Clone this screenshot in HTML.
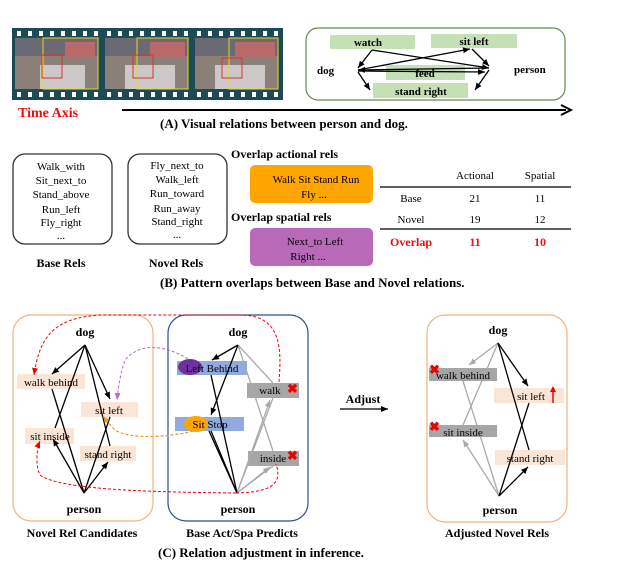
<!DOCTYPE html>
<html><head><meta charset="utf-8"><style>
body{margin:0;background:#fff;}
svg{display:block;font-family:"Liberation Serif",serif;}
</style></head><body>
<svg width="618" height="571" viewBox="0 0 618 571" xmlns="http://www.w3.org/2000/svg">
<defs>
<marker id="ab" markerWidth="8" markerHeight="8" refX="7" refY="4" orient="auto" markerUnits="userSpaceOnUse"><path d="M0,1 L7,4 L0,7 Z" fill="#000"/></marker>
<marker id="ag" markerWidth="8" markerHeight="8" refX="7" refY="4" orient="auto" markerUnits="userSpaceOnUse"><path d="M0,1 L7,4 L0,7 Z" fill="#aaa"/></marker>
<marker id="ar" markerWidth="8" markerHeight="8" refX="7" refY="4" orient="auto" markerUnits="userSpaceOnUse"><path d="M0,1 L7,4 L0,7 Z" fill="#e00"/></marker>
<marker id="ap" markerWidth="8" markerHeight="8" refX="7" refY="4" orient="auto" markerUnits="userSpaceOnUse"><path d="M0,1 L7,4 L0,7 Z" fill="#b070c0"/></marker>
<marker id="ao" markerWidth="8" markerHeight="8" refX="7" refY="4" orient="auto" markerUnits="userSpaceOnUse"><path d="M0,1 L7,4 L0,7 Z" fill="#e0a020"/></marker>
</defs>

<!-- (A) film strip -->
<rect x="12" y="28" width="271" height="72" fill="#1d4a55"/>
<g fill="#fff">
<rect x="17" y="31" width="4" height="5"/><rect x="28" y="31" width="4" height="5"/><rect x="39" y="31" width="4" height="5"/><rect x="50" y="31" width="4" height="5"/><rect x="61" y="31" width="4" height="5"/><rect x="72" y="31" width="4" height="5"/><rect x="83" y="31" width="4" height="5"/><rect x="94" y="31" width="4" height="5"/><rect x="107" y="31" width="4" height="5"/><rect x="118" y="31" width="4" height="5"/><rect x="129" y="31" width="4" height="5"/><rect x="140" y="31" width="4" height="5"/><rect x="151" y="31" width="4" height="5"/><rect x="162" y="31" width="4" height="5"/><rect x="173" y="31" width="4" height="5"/><rect x="184" y="31" width="4" height="5"/><rect x="197" y="31" width="4" height="5"/><rect x="208" y="31" width="4" height="5"/><rect x="219" y="31" width="4" height="5"/><rect x="230" y="31" width="4" height="5"/><rect x="241" y="31" width="4" height="5"/><rect x="252" y="31" width="4" height="5"/><rect x="263" y="31" width="4" height="5"/><rect x="274" y="31" width="4" height="5"/>
<rect x="17" y="92" width="4" height="5"/><rect x="28" y="92" width="4" height="5"/><rect x="39" y="92" width="4" height="5"/><rect x="50" y="92" width="4" height="5"/><rect x="61" y="92" width="4" height="5"/><rect x="72" y="92" width="4" height="5"/><rect x="83" y="92" width="4" height="5"/><rect x="94" y="92" width="4" height="5"/><rect x="107" y="92" width="4" height="5"/><rect x="118" y="92" width="4" height="5"/><rect x="129" y="92" width="4" height="5"/><rect x="140" y="92" width="4" height="5"/><rect x="151" y="92" width="4" height="5"/><rect x="162" y="92" width="4" height="5"/><rect x="173" y="92" width="4" height="5"/><rect x="184" y="92" width="4" height="5"/><rect x="197" y="92" width="4" height="5"/><rect x="208" y="92" width="4" height="5"/><rect x="219" y="92" width="4" height="5"/><rect x="230" y="92" width="4" height="5"/><rect x="241" y="92" width="4" height="5"/><rect x="252" y="92" width="4" height="5"/><rect x="263" y="92" width="4" height="5"/><rect x="274" y="92" width="4" height="5"/>
</g>
<g>
<rect x="15" y="38" width="83" height="51" fill="#8a8078"/><rect x="15" y="38" width="83" height="18" fill="#6a6a75"/><rect x="40" y="65" width="45" height="24" fill="#ccc8c8"/><rect x="65" y="42" width="30" height="15" fill="#b86a6a"/>
<rect x="105" y="38" width="83" height="51" fill="#8a8078"/><rect x="105" y="38" width="83" height="18" fill="#6a6a75"/><rect x="125" y="65" width="50" height="24" fill="#ccc8c8"/><rect x="150" y="42" width="35" height="15" fill="#b86a6a"/>
<rect x="195" y="38" width="83" height="51" fill="#8a8078"/><rect x="195" y="38" width="83" height="18" fill="#6a6a75"/><rect x="215" y="65" width="50" height="24" fill="#ccc8c8"/><rect x="235" y="42" width="40" height="15" fill="#b86a6a"/>
</g>
<g fill="none">
<rect x="43" y="38" width="55" height="51" stroke="#e8d820"/><rect x="42" y="55" width="20" height="23" stroke="#e03030"/>
<rect x="137" y="38" width="51" height="51" stroke="#e8d820"/><rect x="133" y="55" width="20" height="23" stroke="#e03030"/>
<rect x="229" y="38" width="49" height="51" stroke="#e8d820"/><rect x="222" y="58" width="20" height="20" stroke="#e03030"/>
</g>
<text x="18" y="117" font-size="14" font-weight="bold" fill="#e81010">Time Axis</text>
<line x1="122" y1="110" x2="566" y2="110" stroke="#000" stroke-width="2"/>
<path d="M561,105 L571,110 L561,115" fill="none" stroke="#000" stroke-width="2"/>
<text x="160" y="128" font-size="13" font-weight="bold">(A)  Visual relations between person and dog.</text>

<rect x="306" y="28" width="259" height="72" rx="12" fill="none" stroke="#6a8a50" stroke-width="1.2"/>
<rect x="330" y="35" width="85" height="14" fill="#c5e0b4"/>
<rect x="431" y="34" width="86" height="14" fill="#c5e0b4"/>
<rect x="386" y="65" width="79" height="15" fill="#c5e0b4"/>
<rect x="373" y="83" width="95" height="15" fill="#c5e0b4"/>
<g font-size="11" font-weight="bold" text-anchor="middle">
<text x="368" y="46">watch</text><text x="474" y="45">sit left</text><text x="425" y="77">feed</text><text x="421" y="95">stand right</text>
</g>
<text x="317" y="74" font-size="11" font-weight="bold">dog</text>
<text x="514" y="73" font-size="11" font-weight="bold">person</text>
<g stroke="#000" stroke-width="1.3" fill="none" marker-end="url(#ab)">
<line x1="372" y1="50" x2="489" y2="68"/>
<line x1="489" y1="68" x2="358" y2="70"/>
<line x1="358" y1="70" x2="470" y2="49"/>
<line x1="372" y1="50" x2="358" y2="68"/>
<line x1="358" y1="71" x2="485" y2="72"/>
<line x1="472" y1="49" x2="489" y2="66"/>
<line x1="358" y1="72" x2="370" y2="90"/>
<line x1="489" y1="70" x2="475" y2="90"/>
</g>

<!-- (B) -->
<rect x="13" y="154" width="99" height="90" rx="12" fill="none" stroke="#333" stroke-width="1.3"/>
<rect x="128" y="154" width="99" height="90" rx="12" fill="none" stroke="#333" stroke-width="1.3"/>
<g font-size="11" text-anchor="middle">
<text x="61" y="170">Walk_with</text><text x="61" y="184">Sit_next_to</text><text x="61" y="198">Stand_above</text><text x="61" y="213">Run_left</text><text x="61" y="226">Fly_right</text><text x="61" y="239">...</text>
<text x="177" y="169">Fly_next_to</text><text x="177" y="183">Walk_left</text><text x="177" y="197">Run_toward</text><text x="177" y="212">Run_away</text><text x="177" y="225">Stand_right</text><text x="177" y="238">...</text>
</g>
<g font-size="12" font-weight="bold" text-anchor="middle"><text x="61" y="267">Base Rels</text><text x="176" y="267">Novel Rels</text></g>
<text x="231" y="158" font-size="12" font-weight="bold">Overlap actional rels</text>
<text x="231" y="221" font-size="12" font-weight="bold">Overlap spatial rels</text>
<rect x="250" y="165" width="123" height="38" rx="5" fill="#ffa500"/>
<rect x="250" y="228" width="123" height="38" rx="5" fill="#b86ab8"/>
<g font-size="11" text-anchor="middle">
<text x="316" y="183">Walk Sit Stand Run</text><text x="314" y="198">Fly ...</text>
<text x="315" y="245">Next_to Left</text><text x="308" y="260">Right  ...</text>
</g>
<line x1="380" y1="187" x2="571" y2="187" stroke="#000" stroke-width="1.2"/>
<line x1="380" y1="229" x2="571" y2="229" stroke="#000" stroke-width="1.2"/>
<g font-size="11" text-anchor="middle">
<text x="475" y="179">Actional</text><text x="540" y="179">Spatial</text>
<text x="411" y="202">Base</text><text x="475" y="202">21</text><text x="540" y="202">11</text>
<text x="411" y="223">Novel</text><text x="475" y="223">19</text><text x="540" y="223">12</text>
</g>
<g font-size="12" font-weight="bold" text-anchor="middle" fill="#e81010">
<text x="411" y="246">Overlap</text><text x="475" y="246">11</text><text x="540" y="246">10</text>
</g>
<text x="160" y="287" font-size="13" font-weight="bold">(B)  Pattern overlaps between Base and Novel relations.</text>

<!-- (C) -->
<rect x="13" y="315" width="140" height="206" rx="18" fill="none" stroke="#f4b183" stroke-width="1.2"/>
<rect x="168" y="315" width="140" height="206" rx="18" fill="none" stroke="#2f4f8f" stroke-width="1.2"/>
<rect x="427" y="315" width="140" height="207" rx="18" fill="none" stroke="#f4b183" stroke-width="1.2"/>

<g font-size="12" font-weight="bold" text-anchor="middle">
<text x="85" y="336">dog</text><text x="84" y="513">person</text>
<text x="238" y="336">dog</text><text x="238" y="513">person</text>
<text x="498" y="334">dog</text><text x="500" y="514">person</text>
</g>

<rect x="17" y="374" width="68" height="15" fill="#fbe5d6"/>
<rect x="81" y="402" width="57" height="15" fill="#fbe5d6"/>
<rect x="25" y="428" width="49" height="16" fill="#fbe5d6"/>
<rect x="80" y="446" width="56" height="15" fill="#fbe5d6"/>
<g stroke="#000" stroke-width="1.3" fill="none">
<line x1="85" y1="345" x2="52" y2="374" marker-end="url(#ab)"/>
<line x1="85" y1="345" x2="110" y2="399" marker-end="url(#ab)"/>
<line x1="85" y1="345" x2="55" y2="428"/>
<line x1="85" y1="345" x2="110" y2="446"/>
<line x1="52" y1="389" x2="84" y2="493"/>
<line x1="110" y1="417" x2="84" y2="493"/>
<line x1="84" y1="493" x2="53" y2="439" marker-end="url(#ab)"/>
<line x1="84" y1="493" x2="108" y2="462" marker-end="url(#ab)"/>
</g>
<g font-size="11" text-anchor="middle">
<text x="51" y="386">walk behind</text><text x="109" y="414">sit left</text><text x="50" y="440">sit inside</text><text x="108" y="458">stand right</text>
</g>

<rect x="177" y="361" width="70" height="14" fill="#8faadc"/>
<ellipse cx="190" cy="367" rx="12" ry="8" fill="#7030a0"/>
<rect x="175" y="417" width="69" height="14" fill="#8faadc"/>
<ellipse cx="196" cy="424" rx="12" ry="8" fill="#ffa500"/>
<rect x="247" y="383" width="52" height="15" fill="#a6a6a6"/>
<rect x="248" y="451" width="51" height="15" fill="#a6a6a6"/>
<g stroke="#aaa" stroke-width="1.3" fill="none">
<line x1="238" y1="345" x2="273" y2="383"/>
<line x1="238" y1="345" x2="273" y2="451"/>
<line x1="273" y1="398" x2="237" y2="493"/>
<line x1="237" y1="493" x2="270" y2="400" marker-end="url(#ag)"/>
<line x1="237" y1="493" x2="270" y2="467" marker-end="url(#ag)"/>
<line x1="273" y1="466" x2="237" y2="493"/>
</g>
<g stroke="#000" stroke-width="1.3" fill="none">
<line x1="238" y1="345" x2="212" y2="360" marker-end="url(#ab)"/>
<line x1="238" y1="345" x2="211" y2="415" marker-end="url(#ab)"/>
<line x1="211" y1="375" x2="237" y2="493"/>
<line x1="211" y1="431" x2="237" y2="493"/>
<line x1="209" y1="431" x2="237" y2="493"/>
</g>
<g font-size="11" text-anchor="middle">
<text x="212" y="372">Left Behind</text><text x="210" y="428">Sit  Stop</text><text x="270" y="394">walk</text><text x="273" y="462">inside</text>
</g>
<g font-size="13" font-weight="bold" fill="#e00"><text x="287" y="393">✖</text><text x="287" y="460">✖</text></g>
<path d="M279,382 C282,345 280,315 240,315 L100,315 C55,318 40,335 34,375" fill="none" stroke="#e00" stroke-width="1" stroke-dasharray="3,2" marker-end="url(#ar)"/>
<path d="M236,493 C270,492 283,485 276,464" fill="none" stroke="#e00" stroke-width="1" stroke-dasharray="3,2"/>
<path d="M236,493 C150,492 60,490 40,475 C35,465 37,448 40,441" fill="none" stroke="#e00" stroke-width="1" stroke-dasharray="3,2" marker-end="url(#ar)"/>
<path d="M188,359 C165,345 140,342 125,360 C120,375 118,390 117,400" fill="none" stroke="#b070c0" stroke-width="1" stroke-dasharray="3,2" marker-end="url(#ap)"/>
<path d="M193,431 C170,437 130,440 115,430 C110,425 106,420 103,416" fill="none" stroke="#e0a020" stroke-width="1.2" stroke-dasharray="3,2" marker-end="url(#ao)"/>

<text x="363" y="403" font-size="12" font-weight="bold" text-anchor="middle">Adjust</text>
<line x1="340" y1="409" x2="388" y2="409" stroke="#000" stroke-width="1.3" marker-end="url(#ab)"/>

<rect x="429" y="368" width="68" height="13" fill="#a6a6a6"/>
<rect x="429" y="425" width="68" height="12" fill="#a6a6a6"/>
<rect x="494" y="388" width="70" height="15" fill="#fbe5d6"/>
<rect x="495" y="450" width="70" height="15" fill="#fbe5d6"/>
<g stroke="#aaa" stroke-width="1.3" fill="none">
<line x1="498" y1="343" x2="469" y2="365" marker-end="url(#ag)"/>
<line x1="498" y1="343" x2="463" y2="425"/>
<line x1="463" y1="381" x2="499" y2="496"/>
<line x1="499" y1="496" x2="463" y2="440" marker-end="url(#ag)"/>
</g>
<g stroke="#000" stroke-width="1.3" fill="none">
<line x1="498" y1="343" x2="528" y2="386" marker-end="url(#ab)"/>
<line x1="498" y1="343" x2="529" y2="450"/>
<line x1="529" y1="403" x2="499" y2="496"/>
<line x1="499" y1="496" x2="528" y2="467" marker-end="url(#ab)"/>
</g>
<g font-size="11" text-anchor="middle">
<text x="463" y="379">walk behind</text><text x="531" y="400">sit left</text><text x="463" y="436">sit inside</text><text x="530" y="462">stand right</text>
</g>
<line x1="553" y1="403" x2="553" y2="391" stroke="#e00" stroke-width="1.5"/>
<path d="M550,392 L553,386 L556,392 Z" fill="#e00"/>
<g font-size="13" font-weight="bold" fill="#e00"><text x="429" y="374">✖</text><text x="429" y="431">✖</text></g>

<g font-size="12" font-weight="bold" text-anchor="middle">
<text x="82" y="537">Novel Rel Candidates</text><text x="242" y="537">Base Act/Spa Predicts</text><text x="497" y="537">Adjusted Novel Rels</text>
</g>
<text x="158" y="557" font-size="13" font-weight="bold">(C)   Relation adjustment in inference.</text>
</svg>
</body></html>
